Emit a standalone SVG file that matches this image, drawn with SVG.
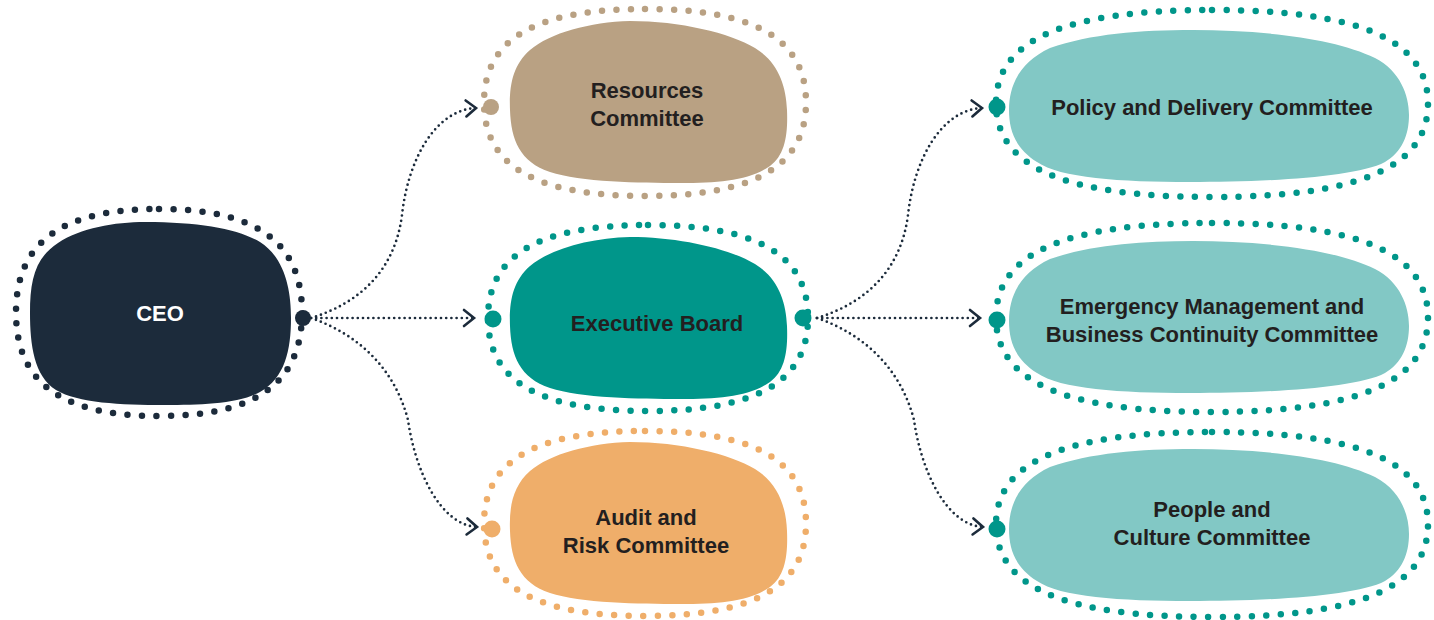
<svg xmlns="http://www.w3.org/2000/svg" width="1434" height="620" viewBox="0 0 1434 620">
<defs>
<style>
.ring{fill:none;stroke-width:6.5;stroke-linecap:round;stroke-dasharray:0 14.5}
.lbl{font-family:"Liberation Sans",Arial,sans-serif;font-weight:bold;font-size:22px;text-anchor:middle;fill:#231f20}
.conn{fill:none;stroke:#1c2b3b;stroke-width:2.7;stroke-linecap:round;stroke-dasharray:0 5.2;marker-end:url(#chev)}
</style>
<marker id="chev" markerUnits="userSpaceOnUse" markerWidth="16" markerHeight="22" refX="11" refY="9" orient="auto" overflow="visible">
<path d="M1,1 L11,9 L1,17" fill="none" stroke="#1c2b3b" stroke-width="2.6" stroke-linecap="round" stroke-linejoin="miter"/>
</marker>
<path id="midblob" d="M630,21 C680,21 730,33 755,48 C778,62 786,85 787,110 C788,135 785,155 770,166 C750,180 720,183 680,183 C640,183 580,182 550,172 C520,162 511,140 510,110 C509,85 513,65 530,50 C550,33 590,22 630,21 Z"/>
<path id="rightblob" d="M1193,30 C1260,30 1335,38 1375,58 C1400,71 1409,95 1409,115 C1409,135 1402,152 1385,162 C1355,178 1260,182 1190,182 C1120,182 1060,178 1037,162 C1015,148 1009,130 1009,110 C1009,85 1020,62 1050,48 C1090,34 1140,30 1193,30 Z"/>
</defs>
<rect width="1434" height="620" fill="#ffffff"/>

<g id="connectors">
<path class="conn" d="M311,318 C360,303 395,270 402,215 C408,160 435,110 476,108"/>
<path class="conn" d="M311,318 L474,318"/>
<path class="conn" d="M311,318 C360,335 395,370 408,420 C415,470 440,525 477,527"/>
<path class="conn" d="M817,318 C866,303 901,270 908,215 C914,160 941,110 982,108"/>
<path class="conn" d="M817,318 L980,318"/>
<path class="conn" d="M817,318 C866,335 901,370 914,420 C921,470 946,525 983,527"/>
</g>

<g id="ceo">
<path class="ring" stroke="#1c2b3b" d="M159,209 C256,209 302,242 302,312.5 C302,383 256,416 159,416 C62,416 16,383 16,312.5 C16,242 62,209 159,209 Z"/>
<path fill="#1c2b3b" d="M145,222 C200,222 238,229 260,242 C285,258 291,290 291,318 C291,350 285,378 260,392 C238,404 200,405 165,405 C120,405 78,403 56,390 C34,376 30,345 30,313 C30,280 35,258 58,243 C80,228 115,222 145,222 Z"/>
<circle cx="303" cy="318" r="8" fill="#1c2b3b"/>
<text class="lbl" x="160" y="321" style="fill:#ffffff">CEO</text>
</g>

<g id="resources">
<path class="ring" stroke="#b9a183" d="M645,9 C754.5,9 806,38.9 806,102.5 C806,166.1 754.5,196 645,196 C535.5,196 484,166.1 484,102.5 C484,38.9 535.5,9 645,9 Z"/>
<use href="#midblob" fill="#b9a183"/>
<circle cx="491" cy="107" r="8" fill="#b9a183"/>
<text class="lbl" x="647" y="98">Resources</text>
<text class="lbl" x="647" y="126">Committee</text>
</g>

<g id="executive">
<path class="ring" stroke="#00968a" d="M648,225 C756.8,225 808,254.8 808,318 C808,381.2 756.8,411 648,411 C539.2,411 488,381.2 488,318 C488,254.8 539.2,225 648,225 Z"/>
<use href="#midblob" fill="#00968a" transform="translate(0,216)"/>
<circle cx="493" cy="319" r="8.5" fill="#00968a"/>
<circle cx="803" cy="318" r="8.5" fill="#00968a"/>
<text class="lbl" x="657" y="331">Executive Board</text>
</g>

<g id="audit">
<path class="ring" stroke="#efae6a" d="M645,431 C754.5,431 806,460.6 806,523.5 C806,586.4 754.5,616 645,616 C535.5,616 484,586.4 484,523.5 C484,460.6 535.5,431 645,431 Z"/>
<use href="#midblob" fill="#efae6a" transform="translate(0,421)"/>
<circle cx="492" cy="529" r="8.5" fill="#efae6a"/>
<text class="lbl" x="646" y="525">Audit and</text>
<text class="lbl" x="646" y="553">Risk Committee</text>
</g>

<g id="policy">
<path class="ring" stroke="#00968a" d="M1212,10 C1358.9,10 1428,39.9 1428,103.5 C1428,167.1 1358.9,197 1212,197 C1065.1,197 996,167.1 996,103.5 C996,39.9 1065.1,10 1212,10 Z"/>
<use href="#rightblob" fill="#82c8c5"/>
<circle cx="997" cy="107" r="8.5" fill="#00968a"/>
<text class="lbl" x="1212" y="115">Policy and Delivery Committee</text>
</g>

<g id="emergency">
<path class="ring" stroke="#00968a" d="M1212,223 C1358.9,223 1428,253.2 1428,317.5 C1428,381.8 1358.9,412 1212,412 C1065.1,412 996,381.8 996,317.5 C996,253.2 1065.1,223 1212,223 Z"/>
<use href="#rightblob" fill="#82c8c5" transform="translate(0,211)"/>
<circle cx="997" cy="320" r="8.5" fill="#00968a"/>
<text class="lbl" x="1212" y="314">Emergency Management and</text>
<text class="lbl" x="1212" y="342">Business Continuity Committee</text>
</g>

<g id="people">
<path class="ring" stroke="#00968a" d="M1212,432 C1358.9,432 1428,461.6 1428,524.5 C1428,587.4 1358.9,617 1212,617 C1065.1,617 996,587.4 996,524.5 C996,461.6 1065.1,432 1212,432 Z"/>
<use href="#rightblob" fill="#82c8c5" transform="translate(0,419)"/>
<circle cx="997" cy="529" r="8.5" fill="#00968a"/>
<text class="lbl" x="1212" y="517">People and</text>
<text class="lbl" x="1212" y="545">Culture Committee</text>
</g>
</svg>
